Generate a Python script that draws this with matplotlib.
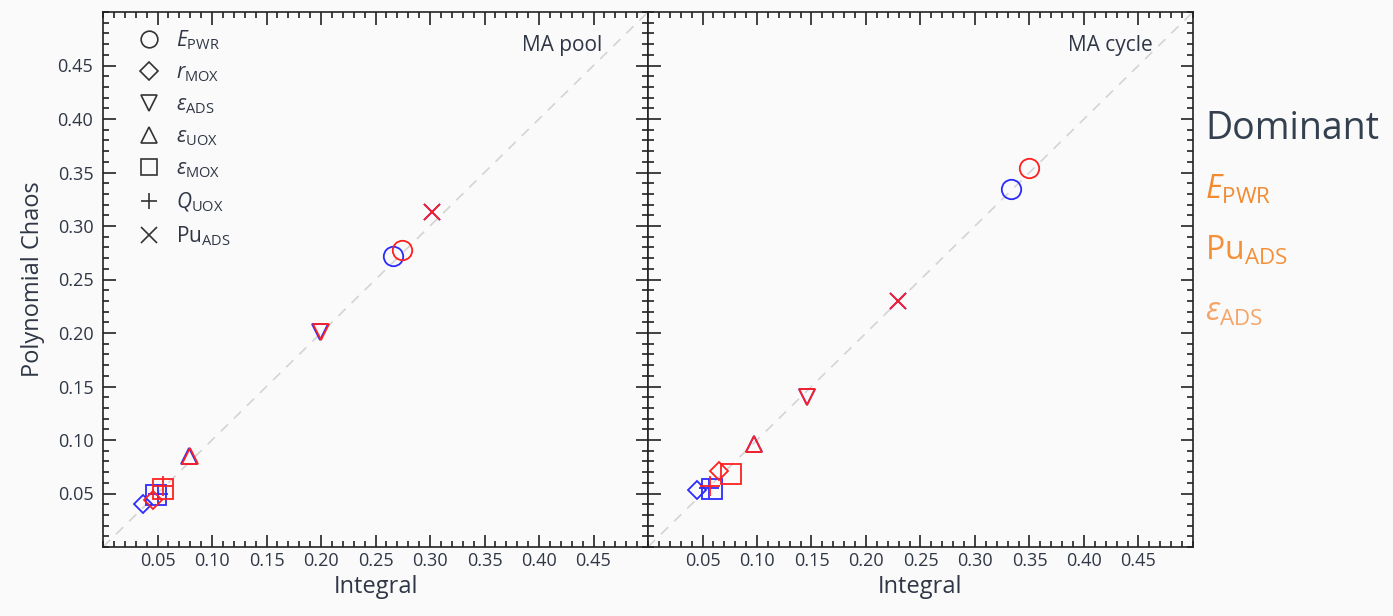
import matplotlib
matplotlib.use("Agg")
import matplotlib.pyplot as plt
from matplotlib.ticker import MultipleLocator, FixedLocator, FormatStrFormatter
from matplotlib.lines import Line2D

# Sensitivity indices: integral estimate vs. polynomial chaos estimate
params = ["E_PWR", "r_MOX", "eps_ADS", "eps_UOX", "eps_MOX", "Q_UOX", "Pu_ADS"]
labels = [r"$E_\mathrm{PWR}$", r"$r_\mathrm{MOX}$", r"$\varepsilon_\mathrm{ADS}$",
          r"$\varepsilon_\mathrm{UOX}$", r"$\varepsilon_\mathrm{MOX}$",
          r"$Q_\mathrm{UOX}$", r"$\mathrm{Pu}_\mathrm{ADS}$"]
markers = ["o", "D", "v", "^", "s", "+", "x"]

# MA pool
pool_first_int = [0.266, 0.037, 0.199, 0.079, 0.049, 0.050, 0.302]
pool_first_pc = [0.272, 0.040, 0.201, 0.085, 0.049, 0.050, 0.313]
pool_total_int = [0.274, 0.046, 0.200, 0.080, 0.055, 0.055, 0.302]
pool_total_pc = [0.278, 0.044, 0.201, 0.085, 0.054, 0.057, 0.313]

# MA cycle
cycle_first_int = [0.333, 0.045, 0.146, 0.097, 0.059, 0.056, 0.229]
cycle_first_pc = [0.335, 0.053, 0.140, 0.096, 0.054, 0.055, 0.230]
cycle_total_int = [0.350, 0.065, 0.146, 0.097, 0.076, 0.057, 0.229]
cycle_total_pc = [0.354, 0.071, 0.140, 0.096, 0.068, 0.057, 0.230]

dominant = [r"$E_\mathrm{PWR}$", r"$\mathrm{Pu}_\mathrm{ADS}$", r"$\varepsilon_\mathrm{ADS}$"]
dominant_colors = ["#f28a30", "#f39038", "#f5a468"]

major_ticks = [0.05, 0.10, 0.15, 0.20, 0.25, 0.30, 0.35, 0.40, 0.45]

BG = "#fafafa"
TXT = "#2f3645"

plt.rcParams["font.family"] = ["Open Sans", "DejaVu Sans"]
plt.rcParams["mathtext.fontset"] = "custom"
plt.rcParams["mathtext.rm"] = "Open Sans"
plt.rcParams["mathtext.it"] = "Open Sans:italic"
plt.rcParams["mathtext.bf"] = "Open Sans:bold"
plt.rcParams["text.color"] = TXT
plt.rcParams["axes.labelcolor"] = TXT

W, H = 1393, 616
fig = plt.figure(figsize=(W / 100, H / 100), dpi=100, facecolor=BG)
ax1 = fig.add_axes([103 / W, (H - 547) / H, 545 / W, 535 / H])
ax2 = fig.add_axes([648 / W, (H - 547) / H, 545 / W, 535 / H], sharey=ax1)

panels = [
    (ax1, "MA pool", 0.916, pool_first_int, pool_first_pc, pool_total_int, pool_total_pc),
    (ax2, "MA cycle", 0.927, cycle_first_int, cycle_first_pc, cycle_total_int, cycle_total_pc),
]

sizes = {"o": 14, "s": 14, "D": 9, "v": 12, "^": 12, "+": 15, "x": 12}

for ax, title, tx_pos, fx, fy, tx, ty in panels:
    ax.set_facecolor(BG)
    ax.plot([0, 0.5], [0, 0.5], ls=(0, (6, 5)), color="#d4d4d4", lw=1.2, zorder=1)
    for xs, ys, col in ((fx, fy, "#2b2bff"), (tx, ty, "#ff2020")):
        for x, y, m in zip(xs, ys, markers):
            ax.plot([x], [y], marker=m, ms=sizes[m], mfc="none", mec=col, mew=1.3,
                    ls="none", zorder=3)
    ax.set_xlim(0, 0.5)
    ax.set_ylim(0, 0.5)
    ax.xaxis.set_major_locator(FixedLocator(major_ticks))
    ax.yaxis.set_major_locator(FixedLocator(major_ticks))
    ax.xaxis.set_minor_locator(MultipleLocator(0.01))
    ax.yaxis.set_minor_locator(MultipleLocator(0.01))
    ax.tick_params(which="both", direction="in", top=True, right=True,
                   colors="#222222", labelcolor=TXT, labelsize=13, width=1.2)
    ax.tick_params(which="major", length=9)
    ax.tick_params(which="minor", length=4.5)
    ax.tick_params(axis="y", pad=7)
    ax.xaxis.set_major_formatter(FormatStrFormatter("%.2f"))
    ax.yaxis.set_major_formatter(FormatStrFormatter("%.2f"))
    for s in ax.spines.values():
        s.set_color("#222222")
        s.set_linewidth(1.2)
    ax.set_xlabel("Integral", fontsize=17, labelpad=4)
    ax.text(tx_pos, 0.938, title, transform=ax.transAxes, ha="right", va="center",
            fontsize=15, color=TXT)

ax1.set_ylabel("Polynomial Chaos", fontsize=17, labelpad=9)
ax2.tick_params(axis="y", labelleft=False)

handles = [Line2D([], [], marker=m, ls="none", mfc="none", mec="#333333", mew=1.2,
                  ms=(9 if m == "D" else 12))
           for m in markers]
ax1.legend(handles, labels, loc="upper left", frameon=False, fontsize=15,
           handletextpad=0.3, labelspacing=0.5, borderaxespad=0.0,
           bbox_to_anchor=(0.03, 0.985), labelcolor=TXT)

fig.text(1205 / W, 1 - 129 / H, "Dominant", fontsize=27, color="#34404f",
         ha="left", va="center")
for i, (lab, col) in enumerate(zip(dominant, dominant_colors)):
    fig.text(1205 / W, 1 - (190 + 61 * i) / H, lab, fontsize=23, color=col,
             ha="left", va="center")

fig.savefig("out.png", dpi=100, facecolor=BG)
